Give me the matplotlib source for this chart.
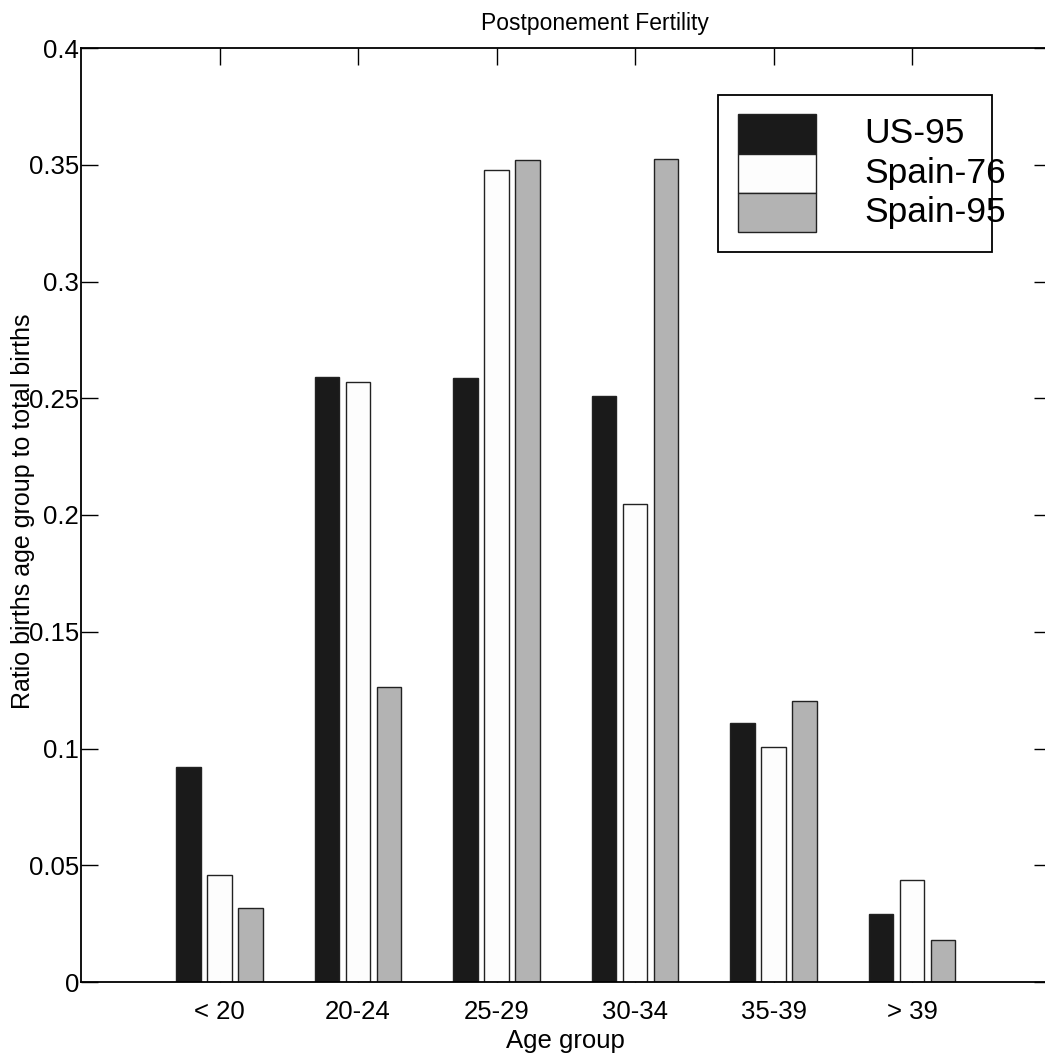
import numpy as np
import matplotlib
matplotlib.use('Agg')
from matplotlib import pyplot as plt
from matplotlib.patches import Rectangle

# Data
age_groups = ['< 20', '20-24', '25-29', '30-34', '35-39', '> 39']
series_names = ['US-95', 'Spain-76', 'Spain-95']
us_95 = [0.092, 0.259, 0.2587, 0.251, 0.111, 0.029]
spain_76 = [0.046, 0.257, 0.3476, 0.2047, 0.1006, 0.0435]
spain_95 = [0.0317, 0.1263, 0.352, 0.3525, 0.1203, 0.018]
y_ticks = [0, 0.05, 0.1, 0.15, 0.2, 0.25, 0.3, 0.35, 0.4]
y_tick_labels = ['0', '0.05', '0.1', '0.15', '0.2', '0.25', '0.3', '0.35', '0.4']

colors = ['#1a1a1a', '#fdfdfd', '#b3b3b3']

plt.rcParams['font.family'] = ['Liberation Sans', 'DejaVu Sans']


def main():
    fig = plt.figure(figsize=(10.45, 10.57), dpi=100)
    # axes extend slightly past the right edge, like the reference
    ax = fig.add_axes([81 / 1045, 75 / 1057, 969.5 / 1045, 934 / 1057])
    ax.set_axisbelow(True)

    x = np.arange(1, len(age_groups) + 1)
    offset = 0.224
    width = 0.18
    for i, vals in enumerate([us_95, spain_76, spain_95]):
        ax.bar(x + (i - 1) * offset, vals, width=width, color=colors[i],
               edgecolor='#222222', linewidth=1.0, label=series_names[i])

    ax.set_xlim(0, 7)
    ax.set_ylim(0, 0.4)
    ax.set_xticks(x)
    ax.set_xticklabels(age_groups)
    ax.set_yticks(y_ticks)
    ax.set_yticklabels(y_tick_labels)
    ax.tick_params(direction='in', length=12, width=1, top=True, right=True,
                   labelsize=18.5, colors='black')
    ax.tick_params(axis='x', pad=13)
    ax.tick_params(axis='y', pad=1.5)
    for s in ax.spines.values():
        s.set_linewidth(1.3)

    ax.set_xlabel('Age group', fontsize=18.5)
    ax.xaxis.set_label_coords(0.5, -0.05)
    ax.set_ylabel('Ratio births age group to total births', fontsize=18)
    ax.yaxis.set_label_coords(-0.047, 0.504)
    ax.text(0.53, 1.026, 'Postponement Fertility', transform=ax.transAxes,
            ha='center', va='center', fontsize=16.5)

    # legend drawn by hand so the text can run past the frame
    ax.add_patch(Rectangle((0.657, 0.7816), 0.283, 0.168, transform=ax.transAxes,
                           facecolor='white', edgecolor='black', linewidth=1.3,
                           zorder=5))
    row_h = 0.042
    for i, name in enumerate(series_names):
        y0 = 0.887 - i * row_h
        ax.add_patch(Rectangle((0.678, y0), 0.08, row_h, transform=ax.transAxes,
                               facecolor=colors[i], edgecolor='#222222',
                               linewidth=1.0, zorder=6))
        ax.text(0.8076, y0 + row_h / 2, name, transform=ax.transAxes,
                ha='left', va='center', fontsize=25.5, zorder=7)

    fig.savefig('out.png', dpi=100)


if __name__ == "__main__":
    main()
